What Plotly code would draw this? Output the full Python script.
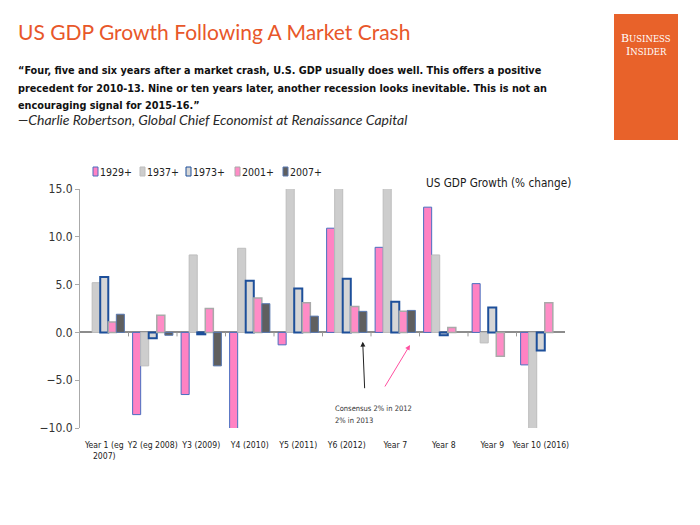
import plotly.graph_objects as go

categories = ["Year 1 (eg<br>2007)", "Y2 (eg 2008)", "Y3 (2009)", "Y4 (2010)", "Y5 (2011)",
              "Y6 (2012)", "Year 7", "Year 8", "Year 9", "Year 10 (2016)"]
series_names = ["1929+", "1937+", "1973+", "2001+", "2007+"]
s1929 = [None, -8.6, -6.5, -13.0, -1.3, 10.9, 8.9, 13.1, 5.1, -3.4]
s1937 = [5.2, -3.5, 8.1, 8.8, 17.7, 18.9, 17.0, 8.1, -1.1, -11.6]
s1973 = [5.8, -0.6, -0.2, 5.4, 4.6, 5.6, 3.2, -0.3, 2.6, -1.9]
s2001 = [1.1, 1.8, 2.5, 3.6, 3.1, 2.7, 2.2, 0.5, -2.5, 3.1]
s2007 = [1.9, -0.3, -3.5, 3.0, 1.7, 2.2, 2.3, None, None, None]
y_ticks = [15, 10, 5, 0, -5, -10]

series_values = [s1929, s1937, s1973, s2001, s2007]
fills = ["#ff82c3", "#cdcdcd", "#d6d6d6", "#ff8cc6", "#5f5f5f"]
borders = ["#4a6fc0", "#bdbdbd", "#1d4f9a", "#a9a9a9", "#5878b0"]
bwidths = [1, 1, 2, 1.5, 1]

OFF = 8  # page body margin
W, H = 700, 525
L, T = 80 - OFF, 189 - OFF
R = W - (565 - OFF)
B = H - (428 - OFF)
pw, ph = W - L - R, H - T - B

def px(x):
    return (x - OFF - L) / pw

def py(y):
    return (H - B - (y - OFF)) / ph

fig = go.Figure()
for name, vals, fc, bc, bw in zip(series_names, series_values, fills, borders, bwidths):
    fig.add_trace(go.Bar(x=list(range(len(categories))), y=vals, name=name,
                         marker=dict(color=fc, line=dict(color=bc, width=bw)),
                         showlegend=False))

narrow = "DejaVu Sans Condensed, sans-serif"

shapes = []
for i in range(1, len(categories)):
    shapes.append(dict(type="line", xref="x", yref="y", x0=i - 0.5, x1=i - 0.5,
                       ysizemode="pixel", yanchor=0, y0=0, y1=-4,
                       line=dict(color="#999999", width=1)))
shapes.append(dict(type="rect", xref="paper", yref="paper",
                   x0=px(614), x1=px(678), y0=py(140), y1=py(14),
                   fillcolor="#e8622a", line=dict(width=0), layer="below"))

annotations = []
def text(x, y, s, size, color="#111", family="Liberation Sans, Arial, sans-serif", xanchor="left", **kw):
    annotations.append(dict(x=px(x), y=py(y), xref="paper", yref="paper", text=s,
                            showarrow=False, xanchor=xanchor, yanchor="middle",
                            font=dict(size=size, color=color, family=family), align="left", **kw))

text(16, 32, "US GDP Growth Following A Market Crash", 21, color="#e8572a",
     family="Lato, Noto Sans, sans-serif")
quote = ["“Four, five and six years after a market crash, U.S. GDP usually does well. This offers a positive",
         "precedent for 2010-13. Nine or ten years later, another recession looks inevitable. This is not an",
         "encouraging signal for 2015-16.”"]
for i, q in enumerate(quote):
    text(16, 71 + 17.5 * i, "<b>" + q + "</b>", 10.8, family=narrow)
text(16, 120, "<i>—Charlie Robertson, Global Chief Economist at Renaissance Capital</i>", 14,
     color="#2a2a2a", family="Lato, sans-serif")
text(646, 38, "B<span style='font-size:8.5px'>USINESS</span>", 11, color="white",
     family="DejaVu Serif, Liberation Serif, serif", xanchor="center")
text(646, 52, "I<span style='font-size:8.5px'>NSIDER</span>", 11, color="white",
     family="DejaVu Serif, Liberation Serif, serif", xanchor="center")

text(498, 183, "US GDP Growth (% change)", 11.7, color="#1a1a1a", family=narrow, xanchor="center")
text(333, 408, "Consensus 2% in 2012", 7.5, color="#333", family=narrow)
text(333, 420, "2% in 2013", 7.5, color="#333", family=narrow)

leg_x = [93, 140, 186, 235, 283]
for name, fc, bc, x in zip(series_names, fills, borders, leg_x):
    shapes.append(dict(type="rect", xref="paper", yref="paper",
                       x0=px(x), x1=px(x + 5), y0=py(176), y1=py(167),
                       fillcolor=fc, line=dict(color=bc, width=1)))
    text(x + 5, 172, name, 10.5, color="#222", family=narrow)

annotations.append(dict(x=px(362.7), y=py(341.7), xref="paper", yref="paper", ax=2, ay=48,
                        showarrow=True, arrowhead=2, arrowsize=1, arrowwidth=1, arrowcolor="#222", text=""))
annotations.append(dict(x=px(410), y=py(345), xref="paper", yref="paper", ax=-26, ay=43,
                        showarrow=True, arrowhead=2, arrowsize=1, arrowwidth=1, arrowcolor="#ff4fa0", text=""))

fig.update_layout(
    width=W, height=H, margin=dict(l=L, r=R, t=T, b=B, autoexpand=False),
    paper_bgcolor="white", plot_bgcolor="white",
    barmode="group", bargap=0.17, bargroupgap=0,
    shapes=shapes, annotations=annotations,
    xaxis=dict(tickmode="array", tickvals=list(range(len(categories))), ticktext=categories,
               range=[-0.5, len(categories) - 0.5], showline=False, showgrid=False, ticks="",
               tickangle=0, ticklabelstandoff=10,
               tickfont=dict(size=8.6, color="#222", family=narrow), zeroline=False),
    yaxis=dict(range=[-10, 15], tickvals=y_ticks, tickformat=".1f", showgrid=False,
               showline=True, linecolor="#aaaaaa", linewidth=1, ticks="outside", ticklen=4,
               tickcolor="#aaaaaa", tickfont=dict(size=12, color="#333", family=narrow),
               zeroline=True, zerolinecolor="#8c8c8c", zerolinewidth=2),
)

fig.write_html("out.html")
